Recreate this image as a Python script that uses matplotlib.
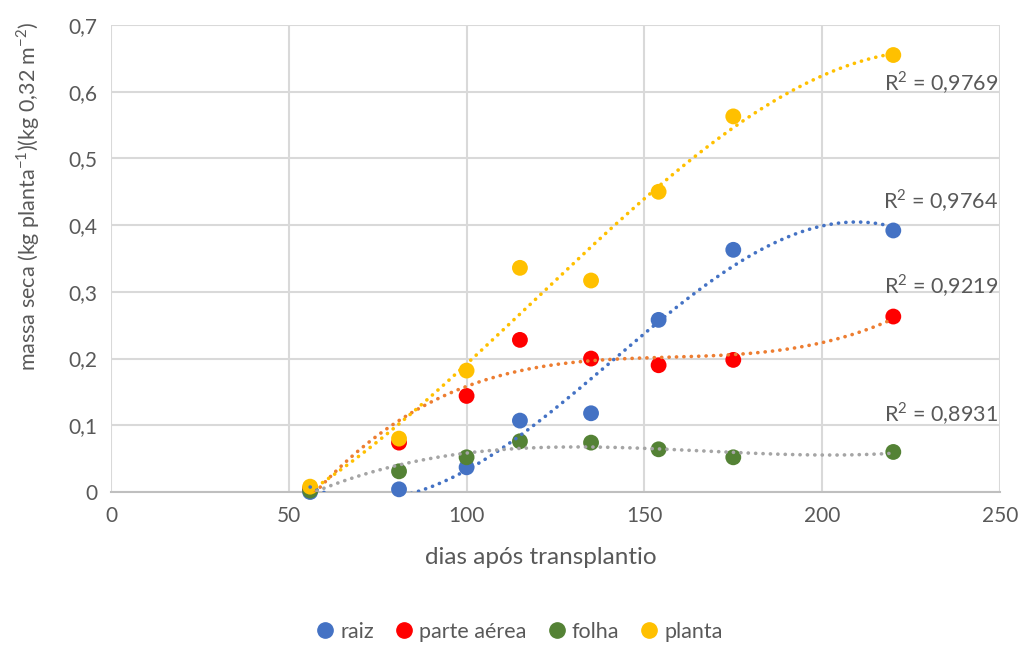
import numpy as np
import matplotlib.pyplot as plt
from matplotlib.lines import Line2D

plt.rcParams['font.family'] = ['Lato', 'DejaVu Sans']
plt.rcParams['mathtext.fontset'] = 'custom'
plt.rcParams['mathtext.rm'] = 'Lato'

dias = [56, 81, 100, 115, 135, 154, 175, 220]
raiz = [0.000, 0.004, 0.037, 0.107, 0.118, 0.258, 0.363, 0.392]
parte_aerea = [0.005, 0.074, 0.144, 0.228, 0.200, 0.190, 0.198, 0.263]
folha = [0.002, 0.031, 0.052, 0.076, 0.074, 0.064, 0.052, 0.060]
planta = [0.008, 0.080, 0.182, 0.336, 0.317, 0.450, 0.563, 0.655]

nomes = ['raiz', 'parte aérea', 'folha', 'planta']
r2_txt = ['0,9764', '0,9219', '0,8931', '0,9769']
yticks = [0, 0.1, 0.2, 0.3, 0.4, 0.5, 0.6, 0.7]
ytick_lbl = ['0', '0,1', '0,2', '0,3', '0,4', '0,5', '0,6', '0,7']

cor_ponto = ['#4472C4', '#FF0000', '#548235', '#FFC000']
cor_linha = ['#4472C4', '#ED7D31', '#A5A5A5', '#FFC000']
grau = 3  # polynomial trendlines
# where the R² labels sit (y, data units)
r2_y = [0.437, 0.310, 0.118, 0.614]

x = np.array(dias, dtype=float)
xs = np.linspace(x.min(), x.max(), 300)
series = [raiz, parte_aerea, folha, planta]

fig = plt.figure(figsize=(10.23, 6.46), dpi=100)
ax = fig.add_axes([0.1085, 0.2384, 0.8690, 0.7229])

for s, c in zip(series, cor_ponto):
    ax.scatter(dias, s, s=130, color=c, edgecolors='none', zorder=3, clip_on=False)

# trendlines on top of the markers
for s, c in zip(series, cor_linha):
    p = np.polyfit(x, np.array(s), grau)
    ax.plot(xs, np.polyval(p, xs), color=c, lw=2.6, linestyle=(0, (0.05, 2.0)),
            dash_capstyle='round', zorder=4)

for t, yy in zip(r2_txt, r2_y):
    ax.text(249.5, yy, f"R$^{{2}}$ = {t}", ha='right', va='center', fontsize=15.5,
            color='#595959', zorder=5)

ax.set_xlim(0, 250)
ax.set_ylim(0, 0.7)
ax.set_xticks(range(0, 251, 50))
ax.set_yticks(yticks)
ax.set_yticklabels(ytick_lbl)
ax.grid(True, color='#D9D9D9', lw=1.5)
ax.set_axisbelow(True)
for sp_ in ['top', 'right', 'left']:
    ax.spines[sp_].set_visible(False)
ax.spines['bottom'].set_color('#BFBFBF')
ax.spines['bottom'].set_linewidth(1.5)
ax.tick_params(length=0, labelsize=15, labelcolor='#595959', pad=10)

ax.set_xlabel('dias após transplantio', fontsize=17.5, color='#595959')
ax.xaxis.set_label_coords(0.484, -0.118)
ax.set_ylabel('massa seca (kg planta$^{\\mathregular{-1}}$)(kg 0,32 m$^{\\mathregular{-2}}$)',
              fontsize=15.5, color='#595959')
ax.yaxis.set_label_coords(-0.078, 0.634)

handles = [Line2D([], [], marker='o', ls='none', markersize=11, color=c) for c in cor_ponto]
fig.legend(handles, nomes, loc='center', bbox_to_anchor=(0.508, 0.022), ncol=4,
           frameon=False, fontsize=15.5, labelcolor='#595959', handlelength=0.8,
           handletextpad=0.3, columnspacing=1.0)

fig.savefig('out.png', dpi=100)
